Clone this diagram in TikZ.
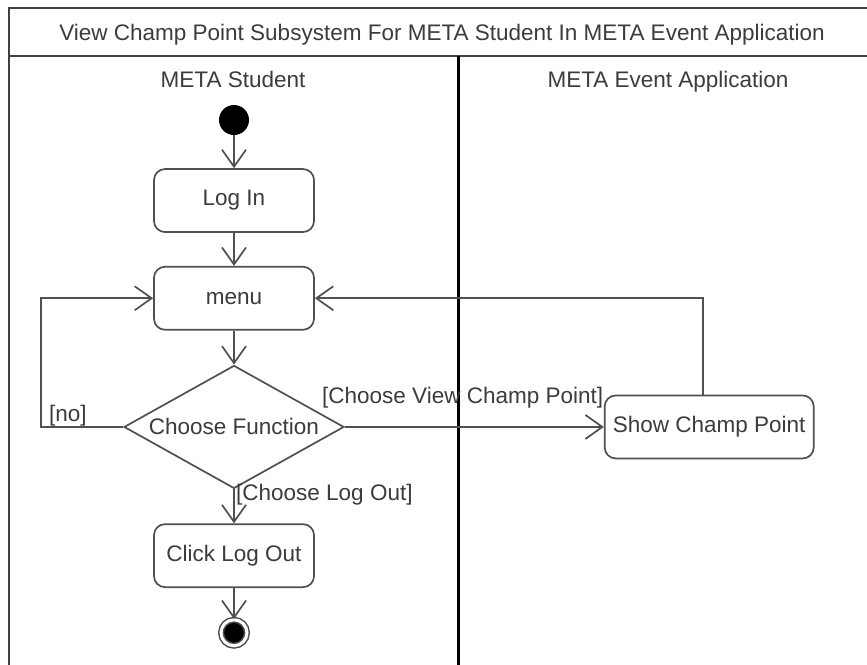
\documentclass[tikz,border=0pt]{standalone}
\usepackage{fontspec}
\setmainfont{Liberation Sans}
\usetikzlibrary{positioning, shapes, arrows.meta, shapes.geometric}
\definecolor{linegray}{HTML}{505050}
\definecolor{textgray}{HTML}{3C3C3C}
\tikzset{>={Straight Barb[length=17pt,width=24pt]}}
\tikzset{
    action/.style={draw=linegray, line width=1.7pt, rounded corners=11pt, minimum width=160pt, minimum height=63pt, inner sep=0pt, text=textgray},
    decision/.style={diamond, draw=linegray, line width=1.7pt, minimum width=220pt, minimum height=123pt, shape aspect=1.79, inner sep=0pt, text=textgray},
    flow/.style={->, draw=linegray, line width=1.7pt},
    guard/.style={inner sep=0pt, text=textgray},
    startdot/.style={circle, fill=black, minimum size=30pt, inner sep=0pt},
    enddot/.style={circle, fill=black, draw=linegray, line width=1.5pt, double=white, double distance=3pt, minimum size=26pt, inner sep=0pt},
    lanetitle/.style={anchor=base, text=textgray},
    frameline/.style={draw=black!75, line width=2.4pt},
    lanesep/.style={draw=black, line width=3pt}
}

\begin{document}
\begin{tikzpicture}[x=1pt, y=1pt, font=\fontsize{22.5}{27}\selectfont]
    \clip (0,0) rectangle (867,-664);
    \fill[white] (0,0) rectangle (867,-664);

    \draw[frameline] (9,-8) rectangle (878,-690);
    \draw[frameline] (9,-56) -- (878,-56);
    \draw[lanesep] (458,-56) -- (458,-690);
    \node[lanetitle] (title) at (442,-40) {View Champ Point Subsystem For META Student In META Event Application};
    \node[lanetitle] (student) at (233,-87) {META Student};
    \node[lanetitle] (app) at (668,-87) {META Event Application};

    \node[startdot] (start) at (234,-120) {};
    \node[action, below=33pt of start] (login) {Log In};
    \node[action, below=33pt of login] (menu) {menu};
    \node[decision, below=34pt of menu] (choose) {Choose Function};
    \node[action, below=34pt of choose] (logout) {Click Log Out};
    \node[enddot, below=31pt of logout] (stop) {};
    \node[action, minimum width=209pt, right=259pt of choose] (show) {Show Champ Point};
    \coordinate (noturn) at (41,0);

    \node[guard, anchor=west] (gno) at (49,-416) {[no]};
    \node[guard, anchor=west] (gview) at (322,-398) {[Choose View Champ Point]};
    \node[guard, anchor=west] (gout) at (236,-495) {[Choose Log Out]};

    \path
    (start) edge[flow] (login)
    (login) edge[flow] (menu)
    (menu) edge[flow] (choose)
    (choose) edge[flow] (logout)
    (logout) edge[flow] (stop)
    (choose) edge[flow] (show)
    ;

    \draw[flow] (choose.west) -- (choose.west -| noturn) |- (menu.west);
    \draw[flow] ([xshift=-6pt]show.north) |- (menu.east);
\end{tikzpicture}
\end{document}
